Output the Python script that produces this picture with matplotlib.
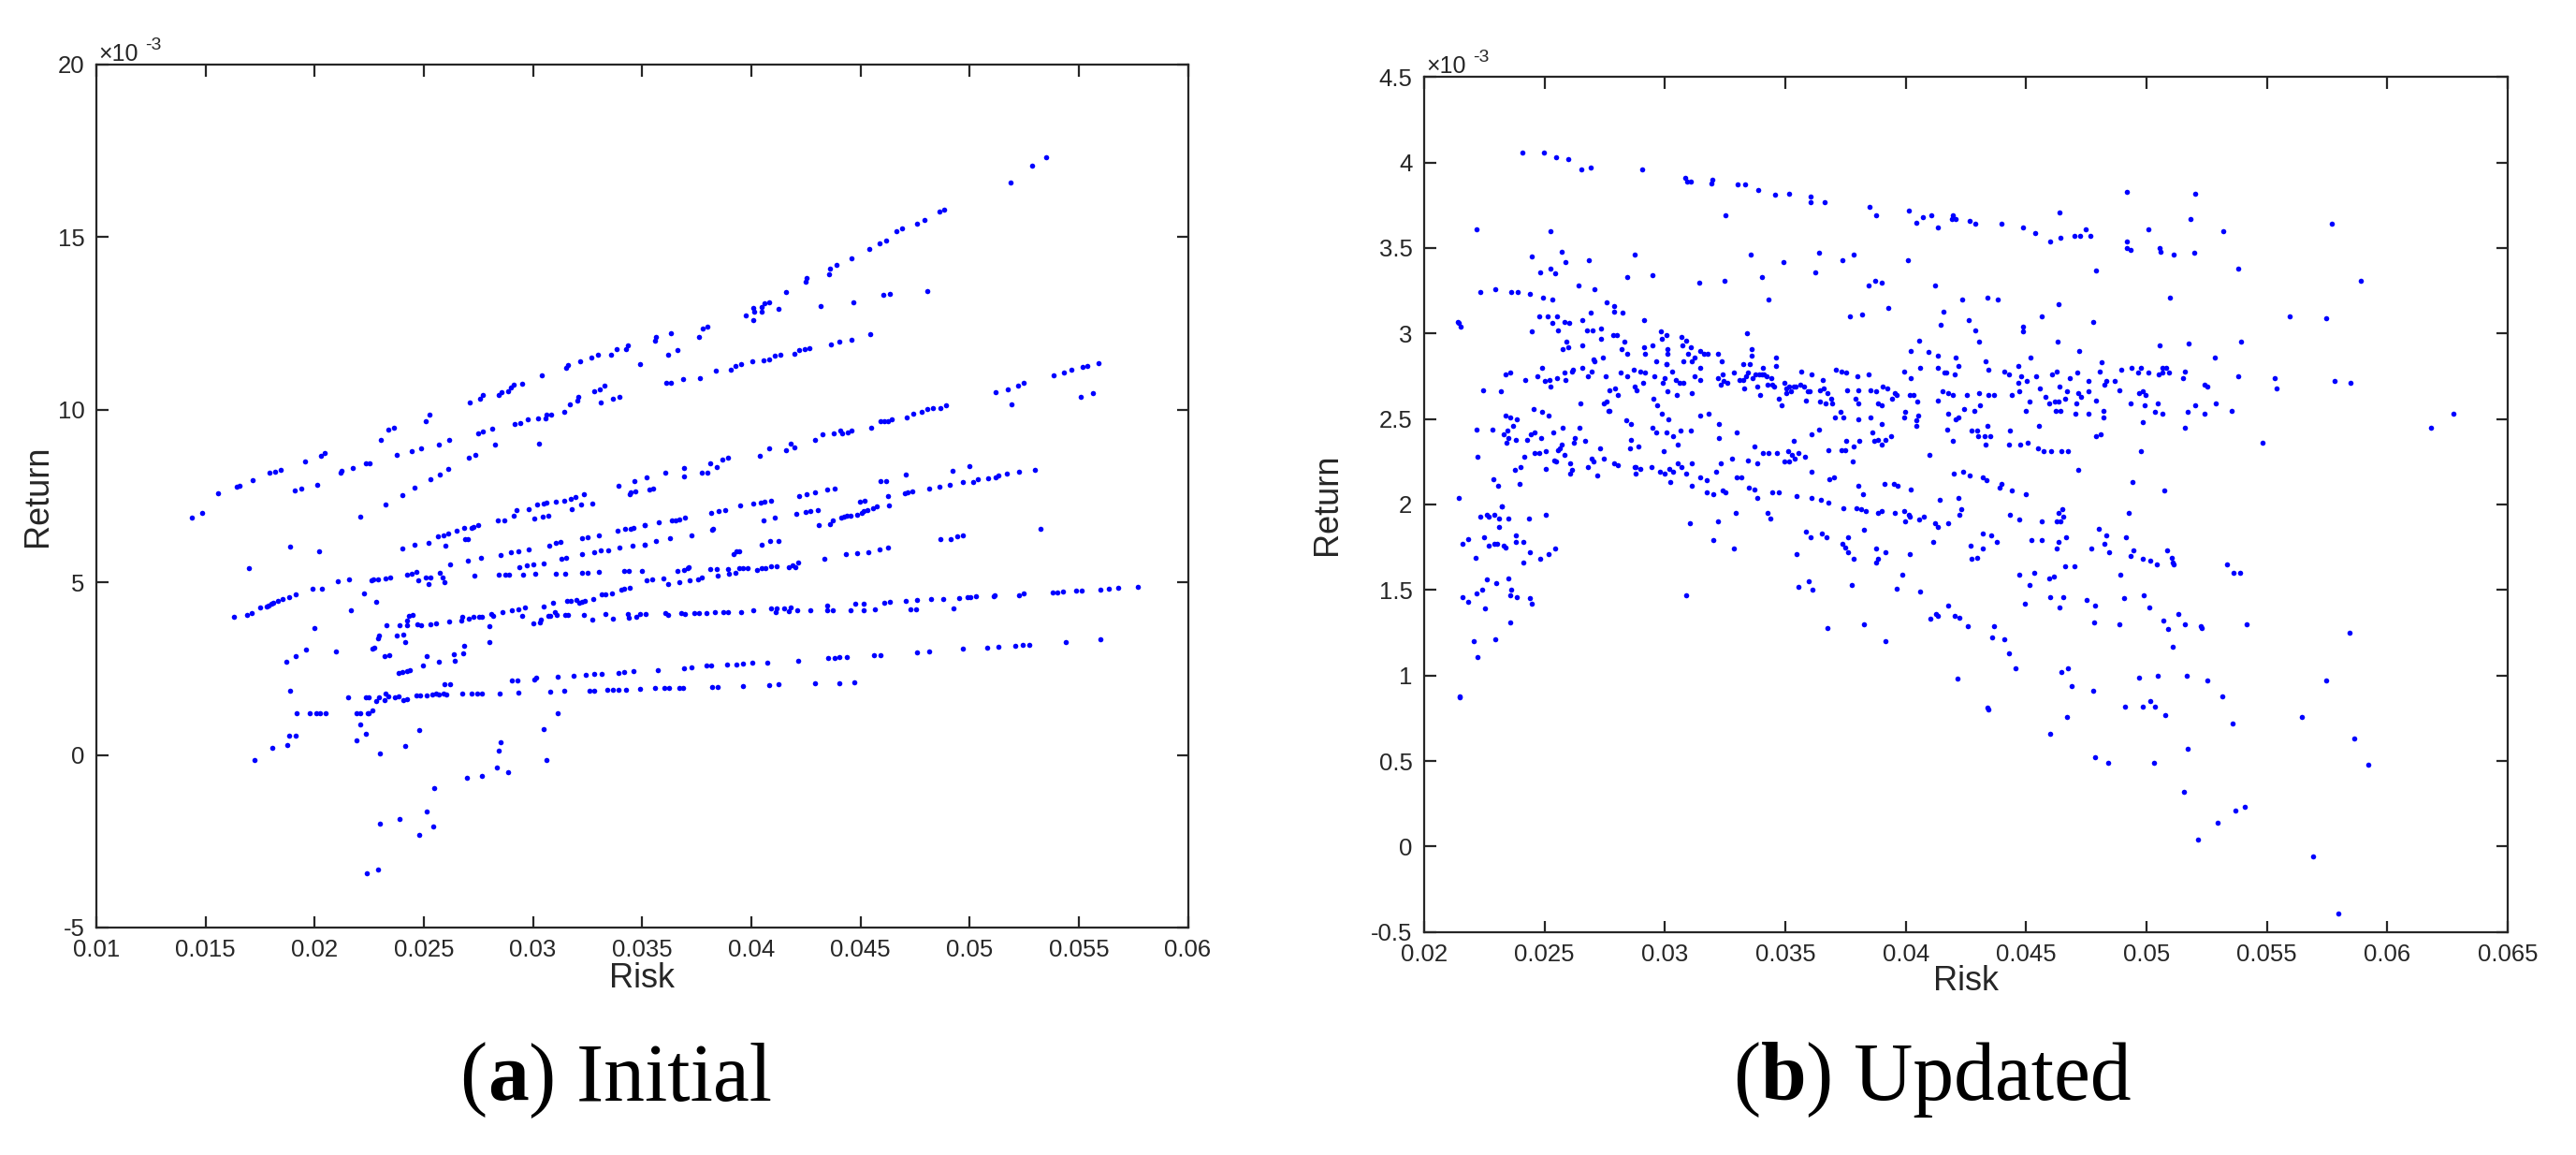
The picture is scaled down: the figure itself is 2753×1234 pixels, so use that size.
import matplotlib
matplotlib.use("Agg")
import matplotlib.pyplot as plt
import numpy as np
from matplotlib.offsetbox import TextArea, HPacker, AnchoredOffsetbox

# ---------------- data (risk in units of 1e-3, return in units of 1e-3) ----------------
initial_upper_left = [
    (15.59, 7.59), (16.43, 7.77), (16.54, 7.81), (17.16, 7.95), (17.95, 8.17), (18.18, 8.20), (18.46, 8.26),
    (19.54, 8.50), (20.30, 8.67), (20.44, 8.75), (23.05, 9.13), (23.39, 9.43), (23.61, 9.47), (25.07, 9.67),
    (25.28, 9.85), (27.10, 10.21), (27.56, 10.32), (27.70, 10.42), (28.44, 10.42), (28.56, 10.52), (28.84, 10.55),
    (28.98, 10.64), (29.10, 10.72), (29.49, 10.76), (30.41, 10.99), (31.52, 11.22), (31.62, 11.29), (32.18, 11.40),
    (32.66, 11.50), (32.98, 11.59), (33.57, 11.59), (33.84, 11.75), (34.28, 11.75), (34.33, 11.87), (34.89, 11.32),
    (19.07, 7.67), (19.38, 7.72), (20.11, 7.83), (21.18, 8.17), (21.25, 8.23), (21.74, 8.32), (22.33, 8.44),
    (22.52, 8.46), (23.77, 8.70), (24.43, 8.79), (24.87, 8.87), (25.69, 9.00), (26.16, 9.12), (27.49, 9.31),
    (27.70, 9.38), (28.13, 9.44), (28.26, 9.00), (29.16, 9.59), (29.41, 9.62), (29.74, 9.71), (30.23, 9.75),
    (30.56, 9.76), (30.62, 9.86), (30.85, 9.87), (31.43, 9.95), (31.69, 10.15), (32.05, 10.26), (32.07, 10.37),
    (30.28, 9.03), (32.82, 10.54), (33.10, 10.22), (33.08, 10.60), (33.26, 10.69), (33.66, 10.32), (33.97, 10.38),
    (24.00, 7.54), (24.56, 7.75), (25.30, 7.98), (25.72, 8.13), (26.13, 8.29), (27.07, 8.61), (27.36, 8.70),
    (30.20, 7.26), (30.48, 7.27), (30.62, 7.31), (31.05, 7.35), (31.44, 7.36), (31.72, 7.41), (31.95, 7.46),
    (32.33, 7.56), (32.21, 7.26), (32.70, 7.29), (33.93, 7.79), (34.43, 7.55), (34.49, 7.61), (34.69, 7.64),
    (34.64, 7.94), (35.21, 8.03), (35.33, 7.69), (35.52, 7.71), (23.23, 7.26),
]

initial_upper_right = [
    (53.52, 17.32), (52.87, 17.08), (51.87, 16.59), (48.85, 15.79), (48.61, 15.75), (47.92, 15.51), (47.61, 15.38),
    (46.89, 15.26), (46.64, 15.17), (46.18, 14.91), (45.89, 14.82), (45.39, 14.67), (44.57, 14.40), (43.92, 14.21),
    (43.61, 14.10), (43.56, 13.92), (42.52, 13.83), (42.48, 13.71), (41.61, 13.42), (40.82, 13.11), (40.62, 13.08),
    (40.46, 12.99), (40.48, 12.84), (40.15, 12.84), (40.07, 12.94), (40.08, 12.61), (39.75, 12.74), (41.23, 12.91),
    (37.97, 12.41), (37.77, 12.36), (37.59, 12.11), (36.31, 12.23), (35.64, 12.11), (35.61, 11.99),
    (36.20, 11.59), (36.62, 11.73), (43.18, 13.01), (44.69, 13.10), (46.03, 13.34), (46.34, 13.37), (48.07, 13.45),
    (36.10, 10.77), (36.31, 10.79), (36.87, 10.88), (37.66, 10.91), (38.39, 11.13), (39.08, 11.16), (39.28, 11.27),
    (39.52, 11.32), (40.05, 11.40), (40.57, 11.44), (40.84, 11.47), (41.08, 11.56), (41.33, 11.60), (41.98, 11.63),
    (42.21, 11.73), (42.44, 11.77), (42.66, 11.79), (43.64, 11.89), (44.02, 11.97), (44.57, 12.03), (45.44, 12.19),
    (55.89, 11.34), (55.41, 11.28), (55.16, 11.23), (54.66, 11.15), (54.31, 11.09), (53.87, 11.01), (52.46, 10.78),
    (52.23, 10.69), (51.74, 10.60), (51.21, 10.51), (51.93, 10.15), (55.11, 10.37), (55.64, 10.47), (48.92, 10.12),
    (48.67, 10.06), (48.31, 10.05), (48.08, 10.01), (47.80, 9.95), (47.43, 9.89), (47.11, 9.79), (46.44, 9.72),
    (46.26, 9.68), (46.10, 9.68), (45.93, 9.67), (45.51, 9.48), (44.61, 9.41), (44.41, 9.34), (44.15, 9.32),
    (44.08, 9.40), (43.79, 9.31), (43.25, 9.29), (42.93, 9.12), (41.98, 8.90), (41.82, 9.03), (41.59, 8.84),
    (40.84, 8.88), (40.38, 8.67), (38.93, 8.62), (38.66, 8.57), (38.43, 8.34), (38.13, 8.46), (37.98, 8.19),
    (37.74, 8.19), (36.93, 8.30), (36.92, 8.07), (36.07, 8.17),
    (53.00, 8.27), (52.28, 8.20), (51.72, 8.14), (51.33, 8.09), (51.21, 8.03), (50.84, 8.01), (50.38, 7.98),
    (50.16, 7.92), (49.69, 7.90), (49.98, 8.38), (49.20, 8.24), (49.07, 7.82), (48.62, 7.78), (48.16, 7.73),
    (47.38, 7.64), (47.18, 7.62), (47.03, 7.58), (47.07, 8.12), (46.16, 7.94), (45.93, 7.94), (46.26, 7.50),
    (45.21, 7.37), (44.98, 7.35), (43.82, 7.72), (43.48, 7.69), (42.92, 7.61), (42.54, 7.55), (42.21, 7.50),
    (40.89, 7.36), (40.62, 7.34), (40.44, 7.31), (40.07, 7.28), (39.48, 7.24),
]

initial_lower_left = [
    (14.38, 6.87), (14.84, 7.01), (22.07, 6.90), (18.87, 6.04), (20.20, 5.89), (16.97, 5.41),
    (28.39, 6.79), (28.69, 6.79), (29.10, 6.94), (29.25, 7.08), (29.80, 7.13), (30.08, 6.84), (30.46, 6.91),
    (30.70, 6.94), (31.79, 7.12),
    (24.02, 5.99), (24.57, 6.09), (25.20, 6.14), (25.66, 6.33), (25.89, 6.36), (26.11, 6.41), (26.52, 6.51),
    (26.84, 6.57), (26.89, 6.24), (27.02, 6.24), (27.18, 6.59), (27.28, 6.61), (27.49, 6.67), (25.98, 6.07),
    (27.00, 5.63), (27.61, 5.70), (26.21, 5.51),
    (32.23, 6.29), (32.51, 6.32), (33.00, 6.37), (33.87, 6.50), (34.20, 6.54), (34.46, 6.56), (34.62, 6.59),
    (35.11, 6.66), (30.74, 6.06), (31.05, 6.14), (31.28, 6.17), (29.31, 5.90), (28.98, 5.88), (28.52, 5.80),
    (29.79, 5.96), (31.30, 5.67), (31.51, 5.70), (32.25, 5.81), (32.79, 5.86), (33.11, 5.92), (33.43, 5.92),
    (33.98, 6.02), (34.54, 6.07), (35.11, 6.09), (29.36, 5.45), (29.70, 5.50), (30.03, 5.51), (30.48, 5.56),
    (21.05, 5.03), (21.56, 5.08), (22.61, 5.05), (22.69, 5.10), (22.89, 5.10), (23.25, 5.11), (23.44, 5.15),
    (24.21, 5.23), (24.46, 5.26), (24.64, 5.31), (24.75, 5.07), (25.08, 5.15), (25.30, 5.15), (25.23, 4.95),
    (25.75, 5.29), (25.84, 5.15), (25.95, 5.00), (27.30, 5.19), (28.44, 5.22), (28.72, 5.22), (28.90, 5.22),
    (29.56, 5.23), (30.11, 5.24), (31.05, 5.26), (31.48, 5.26), (32.26, 5.27), (32.49, 5.29), (33.03, 5.30),
    (34.16, 5.32), (34.41, 5.32), (34.98, 5.33), (35.21, 5.05), (35.44, 5.10),
    (16.30, 4.00), (16.92, 4.06), (17.11, 4.12), (17.49, 4.27), (17.82, 4.31), (17.90, 4.34), (18.02, 4.39),
    (18.11, 4.42), (18.30, 4.46), (18.51, 4.51), (18.85, 4.58), (19.15, 4.65), (19.90, 4.81), (20.31, 4.81),
    (21.64, 4.19), (22.25, 4.67), (22.82, 4.43),
    (23.30, 3.76), (23.90, 3.77), (24.25, 3.89), (24.30, 4.02), (24.25, 3.76), (24.48, 4.05), (24.69, 3.79),
    (24.89, 3.76), (25.30, 3.79), (25.54, 3.81), (26.16, 3.88), (26.70, 3.89), (26.75, 4.00), (27.07, 3.96),
    (27.26, 4.00), (27.51, 4.00), (27.67, 4.00), (28.07, 4.09), (28.16, 4.02), (28.62, 4.15), (29.03, 4.19),
    (29.33, 4.21), (29.61, 4.26), (29.52, 4.02), (30.02, 3.81), (30.31, 3.83), (30.38, 3.91), (30.49, 4.30),
    (30.69, 4.04), (30.79, 4.03), (30.93, 4.40), (31.00, 4.13), (31.07, 4.06), (31.46, 4.05), (31.59, 4.05),
    (31.54, 4.46), (31.74, 4.47), (31.97, 4.49), (32.10, 4.41), (32.23, 4.43), (32.39, 4.46), (32.33, 4.06),
    (32.70, 3.92), (32.74, 4.51), (33.15, 4.64), (33.33, 4.64), (33.62, 4.67), (33.33, 4.08), (33.66, 3.94),
    (34.05, 4.78), (34.16, 4.81), (34.43, 4.84), (34.36, 4.08), (34.41, 3.98), (34.72, 3.99), (34.92, 4.08),
    (35.16, 4.09),
    (19.98, 3.67), (19.59, 3.04), (19.13, 2.87), (18.70, 2.71), (20.97, 2.99), (22.92, 3.37), (22.95, 3.46),
    (22.72, 3.12), (22.66, 3.08), (23.20, 2.86), (23.43, 2.89), (23.74, 3.46), (24.07, 3.50), (24.13, 3.28),
    (25.13, 2.86), (24.98, 2.59), (25.69, 2.70), (26.38, 2.91), (26.43, 2.73), (26.80, 2.94), (26.84, 3.17),
    (28.00, 3.73), (28.00, 3.27), (23.85, 2.37), (24.00, 2.39), (24.23, 2.42), (24.36, 2.47),
    (25.95, 2.04), (26.20, 2.04), (29.03, 2.15), (29.28, 2.15), (30.07, 2.18), (30.15, 2.23), (31.13, 2.26),
    (31.85, 2.30), (32.41, 2.33), (32.82, 2.34), (33.15, 2.35), (33.93, 2.38), (34.16, 2.40), (34.59, 2.42),
    (21.52, 1.66), (22.33, 1.68), (22.49, 1.68), (22.80, 1.56), (22.93, 1.68), (23.21, 1.58), (23.25, 1.79),
    (23.36, 1.69), (23.66, 1.66), (23.85, 1.70), (24.08, 1.59), (24.23, 1.61), (24.66, 1.72), (24.85, 1.72),
    (25.13, 1.73), (25.39, 1.76), (25.54, 1.78), (25.70, 1.74), (25.89, 1.78), (26.02, 1.74), (26.77, 1.77),
    (27.20, 1.78), (27.44, 1.78), (27.67, 1.78), (28.49, 1.79), (29.31, 1.81), (30.79, 1.84), (31.44, 1.85),
    (32.57, 1.87), (32.79, 1.87), (33.41, 1.89), (33.66, 1.89), (33.93, 1.90), (34.25, 1.90), (34.90, 1.92),
    (35.57, 1.93),
    (18.89, 1.87), (19.16, 1.20), (19.77, 1.21), (20.07, 1.21), (20.25, 1.21), (20.51, 1.21), (21.92, 1.21),
    (22.07, 1.21), (22.43, 1.21), (22.49, 1.20), (22.66, 1.30), (22.10, 0.89), (22.36, 0.62), (21.92, 0.43),
    (18.85, 0.56), (19.11, 0.56), (18.75, 0.29), (18.07, 0.20), (17.26, -0.15), (24.77, 0.72), (24.16, 0.25),
    (22.97, 0.03), (31.13, 1.20), (30.48, 0.74), (30.61, -0.14), (28.52, 0.36), (28.44, 0.13), (28.87, -0.51),
    (28.33, -0.35), (27.64, -0.60), (26.98, -0.67), (25.49, -0.96), (25.13, -1.63), (25.44, -2.07),
    (24.79, -2.31), (23.89, -1.86), (23.00, -1.98), (22.89, -3.31), (22.38, -3.44),
]

initial_lower_right = [
    (35.13, 6.66), (35.75, 6.73), (36.38, 6.79), (36.52, 6.80), (36.69, 6.83), (36.97, 6.87), (38.18, 7.00),
    (38.51, 7.07), (38.79, 7.10), (40.57, 6.79), (41.07, 6.87), (42.07, 6.99), (42.48, 7.03), (42.70, 7.06),
    (43.03, 7.10), (43.08, 6.65), (43.59, 6.70), (43.75, 6.80), (44.13, 6.87), (44.26, 6.90), (44.39, 6.92),
    (44.54, 6.94), (44.84, 6.97), (45.05, 7.01), (45.16, 7.06), (45.34, 7.10), (45.59, 7.14), (45.75, 7.19),
    (46.30, 7.22), (53.25, 6.54),
    (35.13, 6.09), (35.62, 6.20), (36.28, 6.28), (37.28, 6.35), (38.21, 6.53), (38.26, 6.55), (39.20, 5.83),
    (39.31, 5.89), (39.44, 5.90), (40.48, 6.09), (40.85, 6.21), (41.23, 6.21), (43.33, 5.69), (44.33, 5.82),
    (44.85, 5.85), (45.38, 5.87), (45.89, 5.96), (46.25, 6.02), (48.66, 6.26), (49.15, 6.26), (49.43, 6.33),
    (49.69, 6.37),
    (35.98, 5.12), (36.18, 4.96), (36.70, 5.01), (36.61, 5.33), (36.90, 5.36), (37.07, 5.40), (37.15, 5.44),
    (37.16, 5.05), (37.57, 5.10), (37.72, 5.13), (38.10, 5.38), (38.41, 5.38), (38.44, 5.20), (38.92, 5.39),
    (38.98, 5.25), (39.26, 5.29), (39.43, 5.41), (39.61, 5.41), (39.85, 5.41), (40.25, 5.36), (40.49, 5.41),
    (40.64, 5.42), (40.89, 5.46), (41.16, 5.47), (41.74, 5.44), (41.87, 5.48), (42.03, 5.43), (42.15, 5.57),
    (57.72, 4.86), (56.82, 4.83), (56.38, 4.81), (56.00, 4.79), (55.15, 4.77), (54.87, 4.76), (54.26, 4.74),
    (54.03, 4.72), (53.80, 4.72), (52.46, 4.67), (52.28, 4.62), (51.16, 4.62), (51.11, 4.59), (50.31, 4.59),
    (50.03, 4.58), (49.89, 4.56), (49.52, 4.55), (48.77, 4.53), (48.25, 4.51), (47.61, 4.49), (47.07, 4.47),
    (46.34, 4.43), (46.11, 4.41), (45.16, 4.39), (44.75, 4.38), (43.46, 4.34), (49.25, 4.24), (47.56, 4.22),
    (47.28, 4.21), (45.67, 4.21), (45.13, 4.20), (44.54, 4.19), (43.75, 4.19), (43.49, 4.19), (42.70, 4.18),
    (42.11, 4.18), (41.82, 4.27), (41.74, 4.16), (41.49, 4.25), (41.18, 4.25), (41.10, 4.14), (40.92, 4.24),
    (40.10, 4.20), (39.54, 4.14), (38.92, 4.13), (38.72, 4.13), (38.33, 4.13), (37.93, 4.12), (37.59, 4.11),
    (37.38, 4.11), (36.98, 4.09), (36.77, 4.11), (36.18, 4.06), (36.07, 4.11),
    (55.98, 3.34), (54.39, 3.27), (52.74, 3.19), (52.43, 3.18), (52.11, 3.17), (51.34, 3.13), (50.82, 3.11),
    (49.69, 3.07), (48.15, 3.01), (47.59, 2.98), (45.90, 2.90), (45.62, 2.89), (44.36, 2.83), (44.05, 2.83),
    (43.82, 2.81), (43.52, 2.81), (42.16, 2.74), (40.74, 2.68), (40.03, 2.66), (39.61, 2.64), (39.30, 2.63),
    (38.87, 2.61), (38.16, 2.58), (37.93, 2.58), (37.28, 2.54), (36.90, 2.52), (35.70, 2.47),
    (44.74, 2.10), (44.03, 2.08), (42.92, 2.07), (41.23, 2.04), (40.84, 2.03), (39.61, 2.00), (38.46, 1.98),
    (38.20, 1.98), (36.89, 1.95), (36.69, 1.95), (36.25, 1.94), (36.03, 1.94),
]

updated_upper_left = [
    (24.08, 4.06), (24.97, 4.06), (25.46, 4.03), (25.98, 4.02), (26.53, 3.96), (26.93, 3.97), (29.05, 3.96),
    (30.83, 3.91), (30.92, 3.89), (31.07, 3.89), (31.93, 3.88), (31.98, 3.90), (33.01, 3.87), (33.31, 3.87),
    (33.88, 3.84), (34.57, 3.81), (35.17, 3.82), (36.03, 3.80), (36.04, 3.77), (36.64, 3.77), (38.50, 3.74),
    (38.76, 3.69), (40.14, 3.72), (40.44, 3.65), (40.71, 3.68), (41.07, 3.69), (41.33, 3.62), (32.52, 3.69),
    (22.19, 3.61), (25.25, 3.60), (25.71, 3.48), (25.86, 3.42), (24.45, 3.45), (24.80, 3.36), (25.25, 3.38),
    (25.43, 3.35), (26.84, 3.43), (26.41, 3.28), (27.06, 3.26), (22.32, 3.24), (22.96, 3.26), (23.63, 3.24),
    (23.88, 3.24), (24.39, 3.23), (24.92, 3.21), (25.32, 3.20), (28.74, 3.46), (28.44, 3.33), (29.49, 3.34),
    (31.41, 3.30), (32.47, 3.31), (33.56, 3.46), (34.03, 3.33), (34.31, 3.20), (34.94, 3.42), (36.40, 3.47),
    (36.23, 3.36), (37.38, 3.43), (37.85, 3.46), (38.44, 3.28), (38.73, 3.31), (39.00, 3.30), (40.08, 3.43),
    (41.21, 3.28), (39.28, 3.15), (37.70, 3.10), (38.19, 3.11), (41.56, 3.13), (41.44, 3.05), (40.54, 2.96),
    (41.33, 2.87), (40.21, 2.90), (40.94, 2.89), (33.39, 3.00),
    (21.40, 3.07), (21.44, 3.06), (21.50, 3.04), (24.48, 3.01), (24.77, 3.10), (25.12, 3.10), (25.32, 3.06),
    (25.52, 3.10), (25.57, 3.02), (25.81, 3.07), (26.04, 3.06), (25.77, 2.91), (25.89, 2.95), (25.97, 2.92),
    (26.58, 3.08), (26.58, 2.93), (26.75, 3.02), (26.99, 3.02), (26.93, 3.12), (27.35, 3.03), (27.33, 2.97),
    (27.58, 3.18), (27.87, 3.16), (27.87, 3.13), (27.85, 2.99), (28.02, 2.99), (28.25, 3.12), (28.21, 2.91),
    (28.33, 2.95), (28.42, 2.88), (27.44, 2.86), (27.04, 2.85), (26.55, 2.80), (26.18, 2.79), (26.13, 2.78),
    (25.86, 2.73), (25.83, 2.77),
    (29.14, 3.08), (29.14, 2.92), (29.16, 2.88), (29.49, 2.93), (29.62, 2.84), (29.83, 3.01), (29.86, 2.97),
    (30.05, 2.99), (30.12, 2.91), (30.11, 2.88), (30.05, 2.82), (30.67, 2.98), (30.72, 2.93), (30.75, 2.84),
    (30.87, 2.96), (30.94, 2.88), (31.09, 2.92), (31.10, 2.84), (31.23, 2.86), (31.46, 2.90), (31.47, 2.80),
    (31.60, 2.88), (31.79, 2.88), (32.21, 2.88), (32.36, 2.84), (33.60, 2.91), (33.62, 2.87), (33.25, 2.82),
    (33.54, 2.82), (34.05, 2.80), (34.62, 2.86), (34.62, 2.81),
    (23.37, 2.76), (23.56, 2.77), (24.19, 2.73), (24.72, 2.75), (24.89, 2.80), (25.02, 2.72), (25.21, 2.73),
    (25.25, 2.69), (25.52, 2.74), (26.49, 2.59), (26.79, 2.75), (26.95, 2.78), (27.07, 2.84), (27.55, 2.75),
    (27.70, 2.67), (27.93, 2.68), (28.05, 2.64), (28.17, 2.77), (28.44, 2.75), (28.70, 2.79), (28.76, 2.69),
    (28.82, 2.67), (28.96, 2.78), (29.08, 2.71), (29.16, 2.77), (29.56, 2.75), (29.54, 2.62), (29.68, 2.58),
    (29.92, 2.71), (29.98, 2.74), (30.08, 2.82), (30.12, 2.66), (30.31, 2.78), (30.44, 2.73), (30.48, 2.64),
    (30.60, 2.71), (30.75, 2.71), (31.12, 2.65), (31.24, 2.75), (31.47, 2.73), (32.19, 2.74), (32.32, 2.70),
    (32.41, 2.76), (32.42, 2.72), (32.59, 2.71), (32.88, 2.77), (33.08, 2.73), (33.27, 2.73), (33.30, 2.68),
    (33.36, 2.75), (33.45, 2.77), (33.65, 2.74), (33.76, 2.76), (33.83, 2.69), (33.90, 2.76), (33.94, 2.64),
    (34.03, 2.76), (34.10, 2.76), (34.23, 2.75), (34.28, 2.70), (34.42, 2.74), (34.46, 2.70), (34.54, 2.69),
    (34.74, 2.62), (34.83, 2.58), (34.95, 2.71), (35.02, 2.65), (35.05, 2.68), (35.14, 2.69), (35.23, 2.66),
    (35.34, 2.69), (35.41, 2.69), (35.61, 2.70), (35.67, 2.78), (35.78, 2.69), (35.84, 2.61), (35.92, 2.66),
    (36.00, 2.66), (36.09, 2.76), (36.43, 2.67), (36.43, 2.60), (36.55, 2.73), (36.61, 2.68), (36.66, 2.59),
    (36.73, 2.65), (36.92, 2.62), (36.95, 2.59), (37.06, 2.51), (37.10, 2.79), (37.35, 2.78), (37.53, 2.77),
    (37.56, 2.67), (37.91, 2.62), (38.02, 2.59), (38.02, 2.67), (37.99, 2.75), (38.45, 2.76), (38.53, 2.67),
    (38.76, 2.66), (38.83, 2.59), (39.00, 2.58), (39.03, 2.69), (39.22, 2.68), (39.42, 2.62), (39.56, 2.65),
    (39.63, 2.64), (39.95, 2.78), (40.20, 2.74), (40.17, 2.64), (40.31, 2.64), (40.48, 2.60), (40.60, 2.80),
    (41.32, 2.80), (41.35, 2.61), (41.52, 2.66), (41.61, 2.77), (22.44, 2.67), (23.19, 2.66),
    (22.85, 2.44), (23.37, 2.52), (23.57, 2.51), (23.83, 2.50), (23.47, 2.43), (23.51, 2.39), (23.31, 2.41),
    (23.42, 2.36), (23.70, 2.46), (23.82, 2.38), (24.16, 2.28), (23.76, 2.20), (24.02, 2.22), (23.97, 2.12),
    (24.28, 2.38), (24.43, 2.41), (24.60, 2.42), (24.60, 2.30), (24.77, 2.30), (24.85, 2.39), (25.06, 2.31),
    (25.06, 2.21), (24.54, 2.56), (24.88, 2.54), (25.15, 2.52), (25.38, 2.42), (25.40, 2.26), (25.49, 2.25),
    (25.57, 2.32), (25.64, 2.33), (25.71, 2.35), (25.74, 2.45), (25.81, 2.29), (26.07, 2.24), (26.07, 2.18),
    (26.13, 2.20), (26.23, 2.36), (26.27, 2.39), (26.47, 2.45), (26.69, 2.37), (26.81, 2.22), (26.95, 2.27),
    (27.04, 2.25), (27.18, 2.17), (27.29, 2.33), (27.47, 2.27), (27.45, 2.59), (27.59, 2.60), (27.64, 2.55),
    (27.71, 2.55), (27.90, 2.24), (28.04, 2.23), (28.39, 2.49), (28.57, 2.47), (28.57, 2.38), (28.54, 2.33),
    (28.73, 2.22), (28.77, 2.18), (28.80, 2.22), (28.88, 2.34), (28.99, 2.21), (29.48, 2.45), (29.63, 2.42),
    (29.43, 2.22), (29.79, 2.19), (29.88, 2.53), (29.94, 2.31), (29.98, 2.18), (30.05, 2.42), (30.14, 2.50),
    (30.17, 2.21), (30.23, 2.13), (30.32, 2.40), (30.32, 2.19), (30.52, 2.24), (30.54, 2.35), (30.63, 2.43),
    (30.69, 2.22), (30.89, 2.18), (31.07, 2.43), (31.10, 2.24), (31.10, 2.11), (31.47, 2.52), (31.46, 2.16),
    (31.83, 2.53), (31.73, 2.14), (32.13, 2.19), (32.25, 2.47), (32.25, 2.39), (32.33, 2.24), (32.78, 2.27),
    (32.98, 2.16), (33.17, 2.16), (32.99, 2.42), (33.45, 2.26), (33.73, 2.34), (33.82, 2.24), (34.08, 2.30),
    (34.31, 2.30), (34.65, 2.30), (35.11, 2.31), (34.98, 2.25), (35.17, 2.25), (35.29, 2.29), (35.37, 2.27),
    (35.35, 2.37), (35.54, 2.30), (35.81, 2.28), (36.10, 2.41), (36.10, 2.19), (36.41, 2.44), (36.79, 2.32),
    (36.83, 2.15), (37.01, 2.16), (37.29, 2.54), (37.35, 2.32), (37.42, 2.51), (37.47, 2.32), (37.53, 2.37),
    (37.81, 2.25), (37.84, 2.34), (38.08, 2.37), (38.05, 2.50), (38.53, 2.51), (38.60, 2.42), (38.71, 2.37),
    (38.85, 2.38), (38.99, 2.47), (38.99, 2.35), (39.14, 2.38), (39.40, 2.40), (39.95, 2.51), (39.98, 2.54),
    (40.51, 2.52), (40.44, 2.49), (40.44, 2.46), (41.00, 2.29), (22.19, 2.44), (22.22, 2.28),
    (22.88, 2.15), (23.08, 2.11), (23.24, 1.99), (21.44, 2.04), (31.73, 2.07), (32.01, 2.06), (32.41, 2.08),
    (32.52, 2.07), (33.50, 2.10), (33.71, 2.09), (33.82, 2.04), (34.46, 2.07), (34.71, 2.07), (35.48, 2.05),
    (36.07, 2.04), (36.49, 2.03), (36.79, 2.01), (38.05, 2.11), (38.24, 2.06), (39.10, 2.12), (39.49, 2.12),
    (39.65, 2.11), (40.20, 2.09), (41.41, 2.03),
]

updated_lower_left = [
    (21.60, 1.77), (21.83, 1.80), (22.13, 1.69), (22.32, 1.93), (22.50, 1.81), (22.62, 1.94), (22.68, 1.93),
    (22.68, 1.76), (22.91, 1.94), (22.93, 1.77), (23.04, 1.77), (23.10, 1.92), (23.11, 1.87), (23.24, 1.99),
    (23.30, 1.76), (23.37, 1.75), (23.50, 1.92), (23.82, 1.82), (23.82, 1.78), (24.13, 1.78), (24.13, 1.66),
    (24.36, 1.92), (24.39, 1.72), (24.83, 1.68), (25.06, 1.94), (25.18, 1.71), (25.43, 1.74),
    (21.58, 1.46), (21.84, 1.43), (22.16, 1.48), (22.39, 1.50), (22.62, 1.56), (22.98, 1.54), (23.50, 1.57),
    (23.56, 1.47), (23.60, 1.50), (23.85, 1.46), (24.40, 1.45), (24.46, 1.42), (22.53, 1.39), (23.59, 1.31),
    (22.06, 1.20), (22.22, 1.11), (22.96, 1.21), (21.47, 0.88), (21.47, 0.87),
    (30.90, 1.47), (31.03, 1.89), (32.02, 1.79), (32.19, 1.90), (32.87, 1.74), (32.93, 1.95), (34.25, 1.95),
    (34.37, 1.92), (35.46, 1.71), (35.55, 1.52), (35.87, 1.84), (35.98, 1.55), (36.04, 1.81), (36.13, 1.50),
    (36.50, 1.83), (36.72, 1.81), (36.75, 1.28), (37.38, 1.77), (37.48, 1.75), (37.61, 1.81), (37.62, 1.72),
    (37.75, 1.53), (37.85, 1.68), (37.41, 1.98), (37.94, 1.98), (38.14, 1.97), (38.34, 1.96), (38.27, 1.85),
    (38.28, 1.30), (38.76, 1.66), (38.76, 1.74), (38.85, 1.68), (38.83, 1.95), (39.02, 1.96), (39.17, 1.72),
    (39.17, 1.20), (39.56, 1.95), (39.63, 1.51), (39.85, 1.59), (39.95, 1.96), (39.98, 1.90), (40.14, 1.94),
    (40.15, 1.93), (40.18, 1.71), (40.54, 1.91), (40.61, 1.49), (40.74, 1.93), (41.01, 1.33), (41.13, 1.78),
    (41.23, 1.89), (41.26, 1.36), (41.35, 1.87), (41.35, 1.35),
]

updated_upper_right = [
    (41.94, 3.69), (41.92, 3.67), (42.08, 3.67), (42.64, 3.66), (42.88, 3.64), (43.97, 3.64), (44.86, 3.62),
    (45.38, 3.59), (45.98, 3.54), (46.41, 3.56), (47.02, 3.57), (47.23, 3.57), (47.48, 3.61), (47.67, 3.57),
    (49.20, 3.54), (50.08, 3.61), (49.19, 3.50), (49.34, 3.49), (50.56, 3.50), (50.59, 3.48), (51.13, 3.46),
    (51.97, 3.47), (53.19, 3.60), (47.92, 3.37), (53.80, 3.38), (58.88, 3.31), (49.20, 3.83), (52.02, 3.82),
    (46.39, 3.71), (51.83, 3.67), (57.69, 3.64),
    (42.33, 3.20), (43.41, 3.21), (43.83, 3.20), (50.97, 3.21), (46.36, 3.17), (42.63, 3.08), (42.89, 3.02),
    (44.88, 3.04), (44.88, 3.01), (45.64, 3.10), (47.77, 3.07), (43.05, 2.95), (46.30, 2.95), (50.53, 2.93),
    (51.73, 2.94), (53.91, 2.95), (55.94, 3.10), (57.47, 3.09), (47.20, 2.90), (52.83, 2.86), (42.06, 2.86),
    (43.33, 2.84), (45.20, 2.86), (48.14, 2.83), (42.20, 2.81), (44.69, 2.81),
    (41.70, 2.77), (42.02, 2.76), (43.45, 2.79), (44.11, 2.78), (44.27, 2.76), (44.81, 2.75), (46.25, 2.78),
    (46.08, 2.76), (45.42, 2.75), (44.69, 2.71), (45.03, 2.72), (47.13, 2.77), (46.81, 2.74), (47.61, 2.72),
    (48.06, 2.78), (48.31, 2.72), (48.27, 2.70), (48.66, 2.72), (48.94, 2.79), (49.39, 2.80), (49.64, 2.77),
    (49.77, 2.80), (50.06, 2.77), (50.66, 2.80), (50.80, 2.80), (50.66, 2.77), (50.52, 2.76), (50.94, 2.77),
    (51.61, 2.78), (51.52, 2.74), (53.81, 2.75), (55.33, 2.74), (55.39, 2.68), (57.81, 2.72), (58.47, 2.71),
    (52.42, 2.70), (52.52, 2.69), (46.38, 2.69), (45.58, 2.68), (46.70, 2.66), (45.80, 2.63), (45.94, 2.59),
    (46.19, 2.60), (46.33, 2.60), (46.61, 2.62), (47.09, 2.59), (47.16, 2.65), (47.28, 2.63), (47.58, 2.66),
    (41.75, 2.65), (41.95, 2.64), (42.52, 2.64), (43.03, 2.65), (43.44, 2.64), (43.67, 2.64), (44.41, 2.64),
    (44.73, 2.66), (45.13, 2.60), (45.00, 2.55), (42.42, 2.56), (42.86, 2.55), (43.09, 2.58), (46.23, 2.55),
    (46.41, 2.55), (47.03, 2.53), (47.58, 2.53), (47.92, 2.61), (48.20, 2.55), (48.20, 2.51), (48.86, 2.67),
    (49.34, 2.59), (49.67, 2.65), (49.86, 2.66), (49.97, 2.64), (49.92, 2.58), (50.34, 2.54), (50.45, 2.59),
    (50.66, 2.53), (51.72, 2.54), (52.03, 2.58), (52.41, 2.53), (52.88, 2.59), (53.53, 2.55), (62.75, 2.53),
    (61.81, 2.45), (54.80, 2.36),
    (41.77, 2.53), (41.73, 2.44), (42.09, 2.50), (42.20, 2.51), (42.73, 2.43), (42.95, 2.43), (43.39, 2.46),
    (43.02, 2.40), (43.28, 2.40), (43.52, 2.40), (43.31, 2.35), (41.95, 2.37), (44.34, 2.43), (44.27, 2.35),
    (44.77, 2.35), (45.06, 2.36), (45.53, 2.46), (45.48, 2.33), (45.72, 2.31), (46.02, 2.31), (46.45, 2.31),
    (46.75, 2.31), (47.89, 2.40), (48.11, 2.41), (49.83, 2.48), (49.77, 2.31), (51.59, 2.45), (47.16, 2.20),
    (42.00, 2.18), (42.39, 2.19), (42.67, 2.17), (43.19, 2.16), (43.34, 2.14), (43.88, 2.10), (43.98, 2.12),
    (44.41, 2.08), (44.98, 2.06), (49.41, 2.13), (50.72, 2.08), (42.20, 2.04),
]

updated_lower_right = [
    (41.75, 1.89), (42.30, 1.97), (42.22, 1.94), (42.69, 1.76), (42.72, 1.68), (42.98, 1.69), (43.19, 1.83),
    (43.20, 1.74), (43.55, 1.82), (43.78, 1.78), (44.31, 1.94), (44.70, 1.91), (45.23, 1.79), (45.64, 1.79),
    (45.66, 1.90), (46.27, 1.90), (46.42, 1.90), (46.36, 1.95), (46.52, 1.97), (46.56, 1.93), (46.36, 1.78),
    (46.25, 1.74), (46.67, 1.81), (44.70, 1.59), (45.33, 1.60), (45.14, 1.53), (45.97, 1.57), (46.14, 1.58),
    (46.61, 1.64), (47.00, 1.64), (46.00, 1.46), (46.55, 1.46), (46.38, 1.40), (44.94, 1.42), (47.52, 1.44),
    (47.86, 1.41), (47.83, 1.31), (48.00, 1.86), (48.33, 1.82), (48.27, 1.77), (48.45, 1.72), (47.69, 1.74),
    (49.16, 1.81), (49.25, 1.95), (49.47, 1.73), (49.34, 1.70), (49.86, 1.68), (50.14, 1.67), (50.41, 1.65),
    (48.92, 1.59), (49.05, 1.45), (48.86, 1.30), (49.89, 1.47), (50.13, 1.40), (50.86, 1.73), (51.05, 1.69),
    (51.08, 1.66), (51.14, 1.65), (50.70, 1.32), (50.88, 1.27), (51.08, 1.17), (51.33, 1.36), (51.58, 1.30),
    (52.27, 1.29), (52.30, 1.28), (53.34, 1.65), (53.61, 1.60), (53.88, 1.60), (54.17, 1.30), (58.44, 1.25),
    (41.78, 1.41), (42.02, 1.35), (42.22, 1.34), (42.59, 1.29), (43.66, 1.29), (43.59, 1.22), (44.08, 1.21),
    (44.27, 1.13), (44.56, 1.04), (42.14, 0.98), (43.38, 0.81), (43.44, 0.80), (45.98, 0.66), (46.48, 1.02),
    (46.73, 1.04), (46.89, 0.94), (47.80, 0.91), (46.70, 0.76), (47.88, 0.52), (48.39, 0.49), (49.11, 0.82),
    (49.69, 0.99), (49.84, 0.82), (50.14, 0.85), (50.34, 0.82), (50.47, 1.00), (50.78, 0.77), (51.69, 1.00),
    (52.53, 0.97), (53.14, 0.88), (53.59, 0.72), (51.70, 0.57), (50.31, 0.49), (56.47, 0.76), (57.45, 0.97),
    (58.64, 0.63), (59.20, 0.48), (51.55, 0.32), (52.13, 0.04), (52.94, 0.14), (53.70, 0.21), (54.09, 0.23),
    (56.91, -0.06), (57.98, -0.39),
]

# axis ticks / labels
initial_xticks = [0.01, 0.015, 0.02, 0.025, 0.03, 0.035, 0.04, 0.045, 0.05, 0.055, 0.06]
initial_xticklabels = ["0.01", "0.015", "0.02", "0.025", "0.03", "0.035", "0.04", "0.045", "0.05", "0.055", "0.06"]
initial_yticks = [-5, 0, 5, 10, 15, 20]
initial_yticklabels = ["-5", "0", "5", "10", "15", "20"]
updated_xticks = [0.02, 0.025, 0.03, 0.035, 0.04, 0.045, 0.05, 0.055, 0.06, 0.065]
updated_xticklabels = ["0.02", "0.025", "0.03", "0.035", "0.04", "0.045", "0.05", "0.055", "0.06", "0.065"]
updated_yticks = [-0.5, 0, 0.5, 1, 1.5, 2, 2.5, 3, 3.5, 4, 4.5]
updated_yticklabels = ["-0.5", "0", "0.5", "1", "1.5", "2", "2.5", "3", "3.5", "4", "4.5"]
x_label = "Risk"
y_label = "Return"
scale_label = "\u00d710"
scale_exp = "-3"
captions = [("a", "Initial"), ("b", "Updated")]

# ---------------- drawing ----------------
plt.rcParams["font.family"] = ["Liberation Sans", "DejaVu Sans"]
INK = "#262626"
DOT = "#0000ff"

W, H = 2753, 1234
fig = plt.figure(figsize=(W / 100, H / 100), dpi=100)
fig.patch.set_facecolor("white")

axL = fig.add_axes([103 / W, 1 - 991 / H, (1269.5 - 103) / W, (991 - 69) / H])
axR = fig.add_axes([1522 / W, 1 - 995.7 / H, (2680 - 1522) / W, (995.7 - 82.3) / H])


def to_xy(*groups):
    pts = np.array([p for g in groups for p in g], dtype=float)
    return pts[:, 0] * 1e-3, pts[:, 1]


def style(ax, xticks, xlabels, yticks, ylabels, xlab_y, ylab_x):
    ax.set_xlim(xticks[0], xticks[-1])
    ax.set_ylim(yticks[0], yticks[-1])
    ax.set_xticks(xticks)
    ax.set_xticklabels(xlabels)
    ax.set_yticks(yticks)
    ax.set_yticklabels(ylabels)
    ax.tick_params(direction="in", length=9, width=1.6, color=INK, labelcolor=INK,
                   labelsize=18.5, top=True, right=True, pad=9)
    for sp in ax.spines.values():
        sp.set_linewidth(1.6)
        sp.set_color(INK)
    ax.set_xlabel(x_label, fontsize=26, color=INK, va="baseline")
    ax.xaxis.set_label_coords(0.5, xlab_y)
    ax.set_ylabel(y_label, fontsize=26, color=INK, va="baseline")
    ax.yaxis.set_label_coords(ylab_x, 0.5)
    ax.annotate(scale_label, xy=(0, 1), xycoords="axes fraction", xytext=(2, 4),
                textcoords="offset pixels", fontsize=18, color=INK, ha="left", va="baseline")
    ax.annotate(scale_exp, xy=(0, 1), xycoords="axes fraction", xytext=(52, 16),
                textcoords="offset pixels", fontsize=14, color=INK, ha="left", va="baseline")


xa, ya = to_xy(initial_upper_left, initial_upper_right, initial_lower_left, initial_lower_right)
axL.scatter(xa, ya, s=16, c=DOT, linewidths=0, zorder=3)
style(axL, initial_xticks, initial_xticklabels, initial_yticks, initial_yticklabels,
      -(1055 - 991) / 922, -(103 - 50) / 1166.5)

xb, yb = to_xy(updated_upper_left, updated_lower_left, updated_upper_right, updated_lower_right)
axR.scatter(xb, yb, s=16, c=DOT, linewidths=0, zorder=3)
style(axR, updated_xticks, updated_xticklabels, updated_yticks, updated_yticklabels,
      -(1058 - 995.7) / 913.4, -(1522 - 1428) / 1158)


def caption(xc, letter, word):
    props = dict(family="Liberation Serif", size=63, color="black")
    parts = [TextArea("(", textprops=props),
             TextArea(letter, textprops=dict(props, weight="bold")),
             TextArea(") " + word, textprops=props)]
    box = HPacker(children=parts, align="baseline", pad=0, sep=0)
    anch = AnchoredOffsetbox(loc="lower center", child=box, pad=0, borderpad=0, frameon=False,
                             bbox_to_anchor=(xc, 40 / H), bbox_transform=fig.transFigure)
    fig.add_artist(anch)


caption(658 / W, captions[0][0], captions[0][1])
caption(2065 / W, captions[1][0], captions[1][1])

fig.savefig("out.png", dpi=100, facecolor="white")
